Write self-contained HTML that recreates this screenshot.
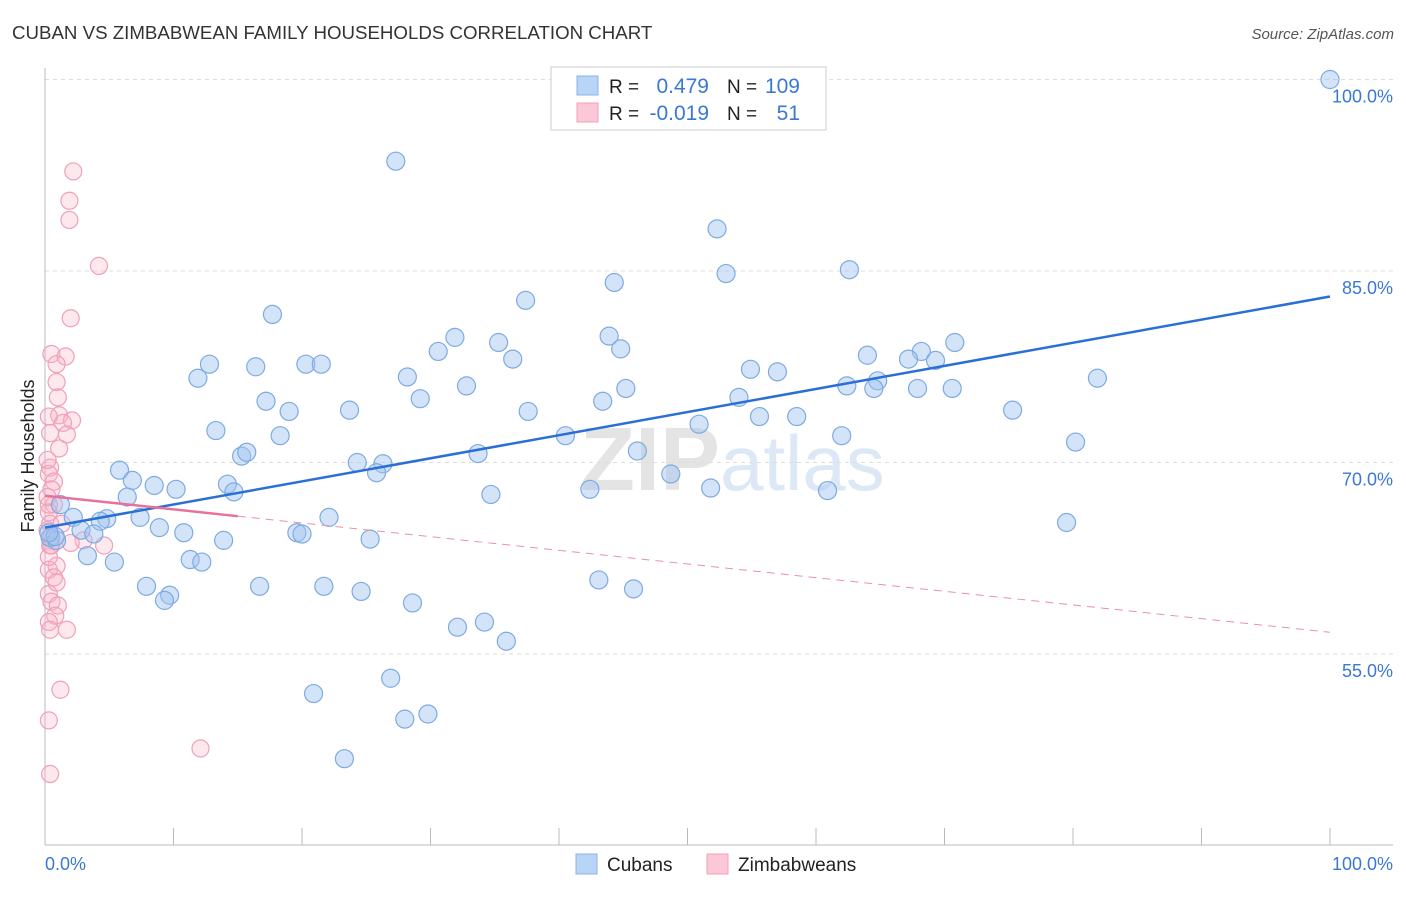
<!DOCTYPE html>
<html><head><meta charset="utf-8"><style>
body{margin:0;background:#fff;font-family:"Liberation Sans",sans-serif;}
svg text{font-family:"Liberation Sans",sans-serif;}
</style></head><body>
<svg id="chart" width="1406" height="892" xmlns="http://www.w3.org/2000/svg">
<text x="12" y="39" font-size="18.7" fill="#333">CUBAN VS ZIMBABWEAN FAMILY HOUSEHOLDS CORRELATION CHART</text>
<text x="1394" y="39" font-size="15" fill="#555" font-style="italic" text-anchor="end">Source: ZipAtlas.com</text>
<text x="720" y="490" font-size="90" fill="#e4e4e4" text-anchor="end" font-family="Liberation Serif" font-weight="bold">ZIP</text>
<text x="720" y="490" font-size="78" fill="#dce8f6">atlas</text>
<g id="grid"></g>
<g id="axes"></g>
<g id="pts"></g>
<g id="trend"></g>
<text transform="translate(34,456) rotate(-90)" font-size="18" fill="#222" text-anchor="middle">Family Households</text>
<text x="45" y="870" font-size="18" fill="#3a78d4">0.0%</text>
<text x="1393" y="870" font-size="18" fill="#3a78d4" text-anchor="end">100.0%</text>
<g>
<rect x="551" y="67" width="275" height="63" fill="#fff" stroke="#ccc"/>
<rect x="577" y="76" width="21" height="19" fill="#b8d4f6" stroke="#8ab4e8"/>
<rect x="577" y="103" width="21" height="19" fill="#fcc8d8" stroke="#f0a0b8"/>
<text x="609" y="93" font-size="19" fill="#222">R =</text>
<text x="709" y="93" font-size="21" fill="#3a78d4" text-anchor="end">0.479</text>
<text x="727" y="93" font-size="19" fill="#222">N =</text>
<text x="800" y="93" font-size="21" fill="#3a78d4" text-anchor="end">109</text>
<text x="609" y="120" font-size="19" fill="#222">R =</text>
<text x="709" y="120" font-size="21" fill="#3a78d4" text-anchor="end">-0.019</text>
<text x="727" y="120" font-size="19" fill="#222">N =</text>
<text x="800" y="120" font-size="21" fill="#3a78d4" text-anchor="end">51</text>
</g>
<g>
<rect x="576" y="854" width="21" height="20" fill="#b8d4f6" stroke="#8ab4e8"/>
<text x="607" y="871" font-size="19" fill="#222">Cubans</text>
<rect x="707" y="854" width="21" height="20" fill="#fcc8d8" stroke="#f0a0b8"/>
<text x="738" y="871" font-size="19" fill="#222">Zimbabweans</text>
</g>
</svg>
<script>
const yTicks=[55,70,85,100];
const yTickLabels=["55.0%","70.0%","85.0%","100.0%"];
const xTicks=[0,10,20,30,40,50,60,70,80,90,100];
const blueX=[100,27.3,52.3,53.0,62.6,44.3,37.4,17.7,43.9,31.9,35.3,30.6,44.8,70.8,64.0,68.2,67.2,69.3,12.8,20.3,21.5,16.4,36.4,54.9,57.0,11.9,28.2,81.9,32.8,45.2,64.8,62.4,64.5,67.9,70.6,54.0,17.2,29.2,43.4,19.0,23.7,37.6,55.6,58.5,75.3,13.3,18.3,50.9,40.5,62.0,80.2,15.3,15.7,46.1,33.7,24.3,26.3,25.8,5.8,48.7,6.8,8.5,10.2,14.2,14.7,6.4,34.7,42.4,51.8,60.9,1.2,2.2,7.4,4.8,4.3,22.1,8.9,2.8,10.8,3.8,19.6,20.0,13.9,25.3,0.4,0.9,3.3,5.4,11.3,12.2,43.1,7.9,16.7,21.7,24.6,45.8,9.7,9.3,28.6,34.2,32.1,35.9,26.9,20.9,28.0,29.8,23.3,79.5,0.8,0.3];
const blueY=[100.0,93.6,88.3,84.8,85.1,84.1,82.7,81.6,79.9,79.8,79.4,78.7,78.9,79.4,78.4,78.7,78.1,78.0,77.7,77.7,77.7,77.5,78.1,77.3,77.1,76.6,76.7,76.6,76.0,75.8,76.4,76.0,75.8,75.8,75.8,75.1,74.8,75.0,74.8,74.0,74.1,74.0,73.6,73.6,74.1,72.5,72.1,73.0,72.1,72.1,71.6,70.5,70.8,70.9,70.7,70.0,69.9,69.2,69.4,69.1,68.6,68.2,67.9,68.3,67.7,67.3,67.5,67.9,68.0,67.8,66.7,65.7,65.7,65.6,65.4,65.7,64.9,64.7,64.5,64.4,64.5,64.4,63.9,64.0,64.1,63.9,62.7,62.2,62.4,62.2,60.8,60.3,60.3,60.3,59.9,60.1,59.6,59.2,59.0,57.5,57.1,56.0,53.1,51.9,49.9,50.3,46.8,65.3,64.2,64.5];
const pinkX=[2.2,1.9,1.9,4.2,2.0,0.5,1.6,0.9,0.9,1.0,1.1,2.1,0.3,1.4,0.4,1.7,1.1,0.4,0.3,0.7,0.5,0.7,0.3,0.4,0.2,0.4,3.0,2.0,4.6,0.3,0.9,0.7,0.3,0.5,1.0,0.8,0.3,1.7,0.4,1.2,0.3,12.1,0.4,0.3,0.5,0.3,0.9,1.3,0.2,0.2,0.5];
const pinkY=[92.8,90.5,89.0,85.4,81.3,78.5,78.3,77.7,76.3,75.1,73.7,73.3,73.6,73.1,72.3,72.2,71.1,69.6,69.1,68.5,67.9,66.7,66.1,65.2,64.7,63.5,63.9,63.7,63.5,61.6,61.9,61.0,59.7,59.1,58.8,58.0,57.5,56.9,56.9,52.2,49.8,47.6,45.6,66.7,64.1,62.6,60.6,65.2,70.2,67.3,63.5];
const blueTrend=[64.9,83.0];
const pinkTrend=[67.4,56.7];
const pinkSolidEnd=15;

const NS="http://www.w3.org/2000/svg";
const X0=45,X1=1330,Y100=79.5,PX15=191.5;
function sx(v){return X0+(X1-X0)*v/100;}
function sy(v){return Y100+(100-v)*PX15/15;}
function mk(tag,attrs,parent){const e=document.createElementNS(NS,tag);for(const k in attrs)e.setAttribute(k,attrs[k]);parent.appendChild(e);return e;}
const grid=document.getElementById('grid'),axes=document.getElementById('axes'),pts=document.getElementById('pts'),trend=document.getElementById('trend');
yTicks.forEach((t,i)=>{
  const l=mk('line',{x1:45,x2:1393,y1:sy(t),y2:sy(t),stroke:'#ddd','stroke-dasharray':'4,4'},grid);
  
  
  const tx=mk('text',{x:1393,y:sy(t)+23,'font-size':18,fill:'#3a78d4','text-anchor':'end'},grid);
  tx.textContent=yTickLabels[i];
  
  
});
mk('line',{x1:45,x2:45,y1:68,y2:845,stroke:'#bbb'},axes);
mk('line',{x1:45,x2:1393,y1:845,y2:845,stroke:'#bbb'},axes);
xTicks.forEach(t=>{
  const l=mk('line',{x1:sx(t),x2:sx(t),y1:828,y2:845,stroke:'#bbb'},axes);
  
  
});
pinkX.forEach((v,i)=>{
  const c=mk('circle',{cx:sx(v),cy:sy(pinkY[i]),r:8.5,fill:'rgba(248,180,200,0.3)',stroke:'#f0a0b8','stroke-width':1.2},pts);
  
  
});
blueX.forEach((v,i)=>{
  const c=mk('circle',{cx:sx(v),cy:sy(blueY[i]),r:9,fill:'rgba(160,196,240,0.45)',stroke:'#7eaae2','stroke-width':1.2},pts);
  
  
});
const bl=mk('line',{x1:sx(0),y1:sy(blueTrend[0]),x2:sx(100),y2:sy(blueTrend[1]),stroke:'#2a6fd6','stroke-width':2.5},trend);


const pAt=x=>pinkTrend[0]+(pinkTrend[1]-pinkTrend[0])*x/100;
const pd=mk('line',{x1:sx(pinkSolidEnd),y1:sy(pAt(pinkSolidEnd)),x2:sx(100),y2:sy(pinkTrend[1]),stroke:'#e890b0','stroke-width':1,'stroke-dasharray':'8,6'},trend);


const ps=mk('line',{x1:sx(0),y1:sy(pinkTrend[0]),x2:sx(pinkSolidEnd),y2:sy(pAt(pinkSolidEnd)),stroke:'#e8709a','stroke-width':2.5},trend);


</script>
</body></html>
